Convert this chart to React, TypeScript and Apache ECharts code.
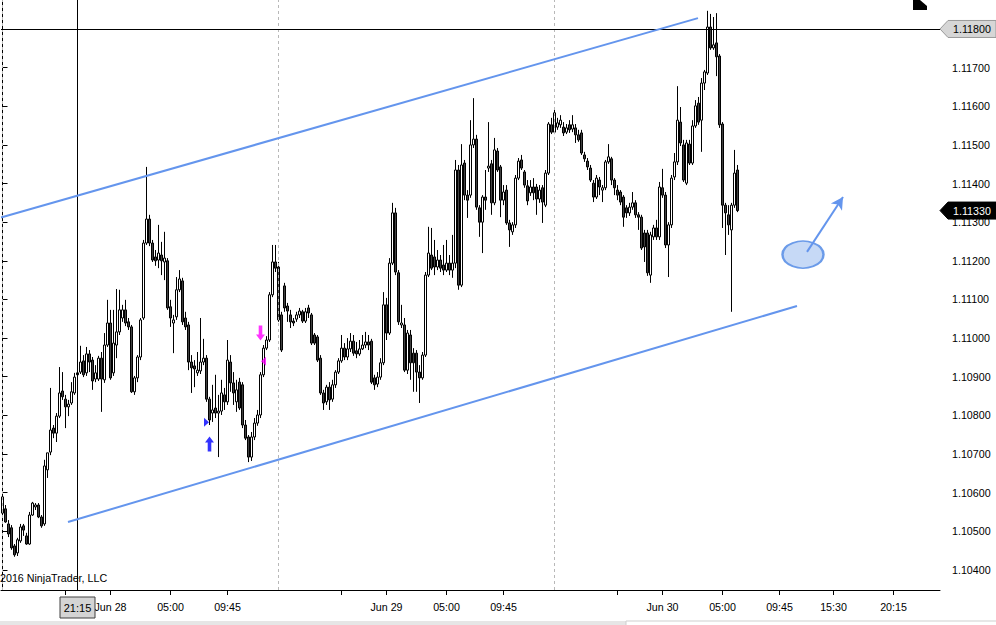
import React, { useEffect, useRef } from "react";
import * as echarts from "echarts";

const opens = [
  1.10547, 1.10558, 1.10519, 1.10509, 1.10462, 1.10444, 1.10475, 1.10514, 1.10488, 1.10467,
  1.10542, 1.10563, 1.10568, 1.10537, 1.10519, 1.10659, 1.10705, 1.10767, 1.10754, 1.10798,
  1.10863, 1.10842, 1.10822, 1.10832, 1.10858, 1.10910, 1.10912, 1.10941, 1.10910, 1.10959,
  1.10943, 1.10894, 1.10894, 1.10948, 1.10892, 1.10982, 1.11039, 1.10910, 1.10982, 1.11016,
  1.11052, 1.11073, 1.11042, 1.11029, 1.10861, 1.10897, 1.10951, 1.11052, 1.11246, 1.11308,
  1.11246, 1.11210, 1.11202, 1.11215, 1.11197, 1.11200, 1.11081, 1.11039, 1.11055, 1.11125,
  1.11148, 1.11052, 1.11034, 1.10938, 1.10928, 1.10910, 1.10915, 1.10938, 1.10948, 1.10842,
  1.10806, 1.10819, 1.10806, 1.10811, 1.10853, 1.10835, 1.10938, 1.10884, 1.10835, 1.10886,
  1.10879, 1.10775, 1.10744, 1.10692, 1.10744, 1.10780, 1.10801, 1.10905, 1.10974, 1.10995,
  1.11112, 1.11197, 1.11184, 1.11060, 1.11135, 1.11083, 1.11060, 1.11044, 1.11049, 1.11060,
  1.11068, 1.11044, 1.11078, 1.11060, 1.11008, 1.11003, 1.10948, 1.10858, 1.10835, 1.10873,
  1.10842, 1.10879, 1.10912, 1.10941, 1.10974, 1.10951, 1.10972, 1.10992, 1.10967, 1.10959,
  1.10972, 1.10982, 1.10990, 1.10992, 1.10897, 1.10881, 1.10899, 1.10936, 1.11086, 1.11013,
  1.11194, 1.11324, 1.11169, 1.11034, 1.11034, 1.10917, 1.11008, 1.10961, 1.10961, 1.10912,
  1.10897, 1.10956, 1.11163, 1.11215, 1.11210, 1.11184, 1.11202, 1.11189, 1.11176, 1.11194,
  1.11176, 1.11194, 1.11435, 1.11137, 1.11453, 1.11370, 1.11370, 1.11500, 1.11515, 1.11337,
  1.11300, 1.11365, 1.11440, 1.11451, 1.11350, 1.11484, 1.11443, 1.11357, 1.11383, 1.11298,
  1.11275, 1.11293, 1.11414, 1.11461, 1.11430, 1.11394, 1.11376, 1.11391, 1.11391, 1.11360,
  1.11389, 1.11344, 1.11427, 1.11552, 1.11533, 1.11546, 1.11552, 1.11546, 1.11533, 1.11552,
  1.11541, 1.11544, 1.11526, 1.11531, 1.11474, 1.11458, 1.11440, 1.11401, 1.11365, 1.11409,
  1.11383, 1.11389, 1.11456, 1.11464, 1.11409, 1.11383, 1.11378, 1.11365, 1.11337, 1.11324,
  1.11339, 1.11350, 1.11319, 1.11313, 1.11272, 1.11272, 1.11163, 1.11262, 1.11285, 1.11262,
  1.11389, 1.11370, 1.11241, 1.11293, 1.11417, 1.11456, 1.11559, 1.11500, 1.11401, 1.11502,
  1.11453, 1.11549, 1.11608, 1.11564, 1.11660, 1.11686, 1.11805, 1.11751, 1.11764, 1.11730,
  1.11554, 1.11344, 1.11319, 1.11280, 1.11344, 1.11435,
];

const closes = [
  1.10589, 1.10524, 1.10493, 1.10457, 1.10439, 1.10478, 1.10511, 1.10503, 1.10467, 1.10542,
  1.10573, 1.10568, 1.10537, 1.10514, 1.10669, 1.10703, 1.10762, 1.10754, 1.10798, 1.10858,
  1.10848, 1.10822, 1.10829, 1.10861, 1.10899, 1.10905, 1.10938, 1.10905, 1.10959, 1.10938,
  1.10889, 1.10910, 1.10948, 1.10894, 1.10982, 1.11039, 1.10897, 1.10987, 1.11016, 1.11073,
  1.11073, 1.11039, 1.11029, 1.10861, 1.10897, 1.10951, 1.11047, 1.11246, 1.11308, 1.11246,
  1.11202, 1.11200, 1.11220, 1.11200, 1.11207, 1.11078, 1.11052, 1.11047, 1.11125, 1.11153,
  1.11042, 1.11029, 1.10938, 1.10923, 1.10920, 1.10917, 1.10938, 1.10948, 1.10842, 1.10788,
  1.10814, 1.10806, 1.10811, 1.10858, 1.10835, 1.10943, 1.10884, 1.10858, 1.10866, 1.10819,
  1.10775, 1.10741, 1.10692, 1.10744, 1.10780, 1.10801, 1.10905, 1.10974, 1.10995, 1.11112,
  1.11197, 1.11181, 1.11047, 1.10969, 1.11078, 1.11070, 1.11042, 1.11039, 1.11060, 1.11070,
  1.11044, 1.11068, 1.11065, 1.10987, 1.10987, 1.10943, 1.10858, 1.10832, 1.10873, 1.10840,
  1.10879, 1.10912, 1.10941, 1.10974, 1.10951, 1.10972, 1.10992, 1.10961, 1.10959, 1.10972,
  1.10982, 1.10990, 1.10982, 1.10886, 1.10879, 1.10899, 1.10936, 1.11086, 1.11013, 1.11194,
  1.11324, 1.11171, 1.11042, 1.11039, 1.10917, 1.11013, 1.10936, 1.10936, 1.10912, 1.10897,
  1.10956, 1.11163, 1.11220, 1.11181, 1.11184, 1.11202, 1.11181, 1.11176, 1.11194, 1.11176,
  1.11194, 1.11435, 1.11137, 1.11448, 1.11370, 1.11357, 1.11500, 1.11515, 1.11339, 1.11300,
  1.11365, 1.11357, 1.11445, 1.11350, 1.11487, 1.11435, 1.11357, 1.11378, 1.11298, 1.11280,
  1.11293, 1.11414, 1.11458, 1.11440, 1.11396, 1.11355, 1.11391, 1.11376, 1.11360, 1.11383,
  1.11352, 1.11427, 1.11554, 1.11533, 1.11583, 1.11557, 1.11564, 1.11531, 1.11544, 1.11539,
  1.11552, 1.11526, 1.11513, 1.11479, 1.11464, 1.11443, 1.11409, 1.11365, 1.11414, 1.11391,
  1.11389, 1.11456, 1.11469, 1.11409, 1.11389, 1.11370, 1.11352, 1.11313, 1.11324, 1.11339,
  1.11350, 1.11319, 1.11313, 1.11233, 1.11236, 1.11169, 1.11267, 1.11285, 1.11262, 1.11391,
  1.11370, 1.11241, 1.11293, 1.11414, 1.11456, 1.11564, 1.11505, 1.11409, 1.11505, 1.11453,
  1.11549, 1.11601, 1.11559, 1.11660, 1.11689, 1.11805, 1.11751, 1.11759, 1.11728, 1.11552,
  1.11344, 1.11324, 1.11293, 1.11344, 1.11427, 1.11330,
];

const highs = [
  1.10602, 1.10568, 1.10529, 1.10516, 1.10467, 1.10483, 1.10519, 1.10519, 1.10496, 1.10550,
  1.10576, 1.10573, 1.10573, 1.10542, 1.10685, 1.10703, 1.10871, 1.10775, 1.10806, 1.10925,
  1.10912, 1.10853, 1.10840, 1.10886, 1.10910, 1.10912, 1.10980, 1.10956, 1.10977, 1.10969,
  1.10951, 1.10930, 1.10954, 1.10964, 1.11013, 1.11099, 1.11073, 1.11073, 1.11127, 1.11125,
  1.11086, 1.11099, 1.11052, 1.11034, 1.10902, 1.10956, 1.11052, 1.11254, 1.11443, 1.11319,
  1.11254, 1.11228, 1.11293, 1.11249, 1.11275, 1.11207, 1.11099, 1.11060, 1.11158, 1.11176,
  1.11156, 1.11068, 1.11042, 1.10956, 1.10943, 1.10964, 1.11052, 1.10998, 1.10956, 1.10848,
  1.10879, 1.10905, 1.10853, 1.10892, 1.10871, 1.10995, 1.10956, 1.10912, 1.10892, 1.10897,
  1.10886, 1.10788, 1.10749, 1.10757, 1.10793, 1.10814, 1.10912, 1.10982, 1.11005, 1.11119,
  1.11241, 1.11241, 1.11197, 1.11068, 1.11143, 1.11091, 1.11073, 1.11052, 1.11068, 1.11078,
  1.11073, 1.11078, 1.11086, 1.11065, 1.11013, 1.11008, 1.10956, 1.10866, 1.10879, 1.10886,
  1.10892, 1.10917, 1.10948, 1.11008, 1.10987, 1.11000, 1.11013, 1.11008, 1.10990, 1.10995,
  1.11008, 1.11016, 1.11008, 1.10998, 1.10905, 1.10912, 1.10948, 1.11119, 1.11104, 1.11207,
  1.11350, 1.11337, 1.11176, 1.11086, 1.11052, 1.11021, 1.11021, 1.10974, 1.10969, 1.10930,
  1.10964, 1.11171, 1.11288, 1.11285, 1.11254, 1.11228, 1.11215, 1.11241, 1.11254, 1.11215,
  1.11267, 1.11461, 1.11448, 1.11502, 1.11461, 1.11383, 1.11564, 1.11621, 1.11526, 1.11344,
  1.11370, 1.11435, 1.11559, 1.11461, 1.11518, 1.11492, 1.11448, 1.11396, 1.11396, 1.11306,
  1.11300, 1.11422, 1.11466, 1.11474, 1.11435, 1.11409, 1.11409, 1.11414, 1.11399, 1.11396,
  1.11396, 1.11435, 1.11559, 1.11570, 1.11593, 1.11570, 1.11577, 1.11559, 1.11554, 1.11564,
  1.11577, 1.11554, 1.11539, 1.11539, 1.11482, 1.11466, 1.11448, 1.11409, 1.11422, 1.11417,
  1.11396, 1.11461, 1.11502, 1.11469, 1.11414, 1.11396, 1.11383, 1.11370, 1.11344, 1.11350,
  1.11378, 1.11357, 1.11326, 1.11319, 1.11280, 1.11280, 1.11275, 1.11293, 1.11306, 1.11404,
  1.11438, 1.11378, 1.11300, 1.11422, 1.11479, 1.11652, 1.11598, 1.11513, 1.11513, 1.11513,
  1.11564, 1.11616, 1.11624, 1.11673, 1.11694, 1.11847, 1.11839, 1.11831, 1.11841, 1.11735,
  1.11559, 1.11350, 1.11344, 1.11350, 1.11487, 1.11448,
];

const lows = [
  1.10542, 1.10522, 1.10485, 1.10452, 1.10434, 1.10436, 1.10470, 1.10488, 1.10465, 1.10465,
  1.10540, 1.10555, 1.10534, 1.10509, 1.10514, 1.10638, 1.10697, 1.10741, 1.10731, 1.10793,
  1.10840, 1.10767, 1.10798, 1.10827, 1.10853, 1.10899, 1.10907, 1.10899, 1.10902, 1.10912,
  1.10866, 1.10886, 1.10889, 1.10809, 1.10884, 1.10977, 1.10892, 1.10902, 1.10948, 1.11008,
  1.11042, 1.11031, 1.11021, 1.10858, 1.10853, 1.10886, 1.10943, 1.11047, 1.11241, 1.11238,
  1.11197, 1.11187, 1.11181, 1.11163, 1.11150, 1.11073, 1.11029, 1.10961, 1.11047, 1.11119,
  1.11034, 1.11021, 1.10917, 1.10858, 1.10873, 1.10902, 1.10907, 1.10930, 1.10835, 1.10775,
  1.10783, 1.10793, 1.10692, 1.10801, 1.10814, 1.10827, 1.10861, 1.10827, 1.10809, 1.10814,
  1.10767, 1.10736, 1.10679, 1.10682, 1.10736, 1.10773, 1.10793, 1.10899, 1.10969, 1.10990,
  1.11106, 1.11171, 1.11042, 1.10964, 1.11068, 1.11042, 1.11026, 1.11031, 1.11042, 1.11052,
  1.11039, 1.11039, 1.11052, 1.10982, 1.10982, 1.10938, 1.10853, 1.10814, 1.10827, 1.10814,
  1.10835, 1.10871, 1.10907, 1.10936, 1.10943, 1.10943, 1.10964, 1.10954, 1.10948, 1.10954,
  1.10969, 1.10974, 1.10969, 1.10881, 1.10866, 1.10873, 1.10892, 1.10930, 1.10995, 1.11008,
  1.11189, 1.11163, 1.11034, 1.11026, 1.10912, 1.10907, 1.10892, 1.10861, 1.10861, 1.10832,
  1.10892, 1.10951, 1.11158, 1.11176, 1.11163, 1.11176, 1.11171, 1.11163, 1.11171, 1.11163,
  1.11156, 1.11181, 1.11125, 1.11132, 1.11357, 1.11311, 1.11363, 1.11492, 1.11332, 1.11262,
  1.11220, 1.11332, 1.11430, 1.11319, 1.11344, 1.11430, 1.11313, 1.11344, 1.11293, 1.11236,
  1.11267, 1.11285, 1.11409, 1.11435, 1.11389, 1.11344, 1.11368, 1.11357, 1.11319, 1.11350,
  1.11298, 1.11339, 1.11422, 1.11528, 1.11528, 1.11539, 1.11544, 1.11523, 1.11528, 1.11531,
  1.11533, 1.11505, 1.11508, 1.11474, 1.11456, 1.11435, 1.11404, 1.11352, 1.11360, 1.11370,
  1.11352, 1.11383, 1.11451, 1.11396, 1.11370, 1.11357, 1.11344, 1.11288, 1.11311, 1.11316,
  1.11332, 1.11311, 1.11280, 1.11228, 1.11197, 1.11161, 1.11143, 1.11254, 1.11254, 1.11254,
  1.11363, 1.11233, 1.11158, 1.11285, 1.11409, 1.11448, 1.11497, 1.11404, 1.11396, 1.11448,
  1.11448, 1.11544, 1.11552, 1.11482, 1.11642, 1.11681, 1.11746, 1.11746, 1.11678, 1.11544,
  1.11285, 1.11215, 1.11267, 1.11068, 1.11337, 1.11326,
];

// x-axis: 15-minute slots (including empty future slots on the right)
const slotCount = 313;
const tickSlots = [21, 36, 56, 75, 113, 128, 148, 167, 205, 220, 240, 259, 277, 297];
const tickTexts = ["", "Jun 28", "05:00", "09:45", "", "Jun 29", "05:00", "09:45", "", "Jun 30", "05:00", "09:45", "15:30", "20:15"];
const sessionStarts = [0, 92, 184];
const crosshairSlot = 25;
const crosshairTime = "21:15";
const crosshairPrice = 1.118;

// y-axis
const priceTicks = [1.104, 1.105, 1.106, 1.107, 1.108, 1.109, 1.11, 1.111, 1.112, 1.113, 1.114, 1.115, 1.116, 1.117];
const yMin = 1.10348;
const yMax = 1.11875;

// drawings (slot, price)
const upperChannel = [[-0.5, 1.11312], [231.83, 1.11828]];
const lowerChannel = [[21.83, 1.10524], [264.83, 1.11083]];
const targetZone = [266.83, 1.11216];
const targetArrow = [[268.17, 1.11223], [280.17, 1.11365]];

// trade markers (slot, price)
const buyArrow = [69, 1.10726];
const buyEntry = [68, 1.10782];
const sellArrow = [86, 1.11013];
const sellEntry = [87, 1.10940];

const copyright = "2016 NinjaTrader, LLC";

const FONT = 'Arial, "Liberation Sans", sans-serif';

const UP_ARROW = "path://M5,0L10,6L7,6L7,15L3,15L3,6L0,6Z";
const DOWN_ARROW = "path://M3,0L7,0L7,9L10,9L5,15L0,9L3,9Z";
const TRI_RIGHT = "path://M0,0L4,4L0,8Z";
const TRI_LEFT = "path://M4,0L0,4L4,8Z";

export default function App() {
  const ref = useRef<HTMLDivElement>(null);

  useEffect(() => {
    if (!ref.current) return;
    const chart = echarts.init(ref.current, null, { renderer: "svg" });

    const categories = Array.from({ length: slotCount }, (_, i) => String(i));
    const candleData = opens.map((o, i) => [o, closes[i], lows[i], highs[i]]);
    const lastClose = closes[closes.length - 1];
    const xLo = -0.5;
    const xHi = slotCount - 0.5;

    chart.setOption({
      animation: false,
      backgroundColor: "#ffffff",
      grid: { left: 1, right: 56, top: 0, bottom: 35, containLabel: false },
      xAxis: [
        {
          type: "category",
          data: categories,
          boundaryGap: true,
          axisLine: { show: true, lineStyle: { color: "#000", width: 1 } },
          axisTick: {
            show: true,
            alignWithLabel: true,
            length: 5,
            interval: (idx: number) => tickSlots.includes(idx),
            lineStyle: { color: "#000" },
          },
          axisLabel: {
            interval: (idx: number) => tickSlots.includes(idx),
            formatter: (_v: string, idx: number) => {
              const k = tickSlots.indexOf(idx);
              return k >= 0 ? tickTexts[k] : "";
            },
            color: "#000",
            fontFamily: FONT,
            fontSize: 10.7,
            margin: 11,
          },
          splitLine: { show: false },
        },
        {
          type: "value",
          min: xLo,
          max: xHi,
          show: false,
        },
      ],
      yAxis: {
        type: "value",
        position: "right",
        min: yMin,
        max: yMax,
        scale: true,
        axisLine: { show: true, lineStyle: { color: "#000", width: 1 } },
        axisTick: { show: true, length: 5, customValues: priceTicks, lineStyle: { color: "#000" } },
        axisLabel: {
          customValues: priceTicks,
          formatter: (v: number) => v.toFixed(5),
          color: "#000",
          fontFamily: FONT,
          fontSize: 10.7,
          margin: 12,
        },
        splitLine: { show: false },
      },
      series: [
        {
          type: "candlestick",
          xAxisIndex: 0,
          data: candleData,
          barWidth: 2,
          itemStyle: {
            color: "#ffffff",
            color0: "#404040",
            borderColor: "#000000",
            borderColor0: "#000000",
            borderWidth: 1,
          },
          markLine: {
            silent: true,
            symbol: ["none", "none"],
            label: { show: false },
            animation: false,
            data: [
              ...sessionStarts.map((s) => ({
                xAxis: s,
                lineStyle: { color: "#b8b8b8", width: 1, type: [3, 3] },
              })),
              { xAxis: crosshairSlot, lineStyle: { color: "#000", width: 1, type: "solid" } },
            ],
          },
          z: 2,
        },
        {
          type: "scatter",
          xAxisIndex: 0,
          silent: true,
          data: [
            { value: buyArrow, symbol: UP_ARROW, symbolSize: [9, 15], itemStyle: { color: "#0000ff" } },
            { value: buyEntry, symbol: TRI_RIGHT, symbolSize: [5, 9], itemStyle: { color: "#0000ff" } },
            { value: sellArrow, symbol: DOWN_ARROW, symbolSize: [9, 15], itemStyle: { color: "#ff00ff" } },
            { value: sellEntry, symbol: TRI_LEFT, symbolSize: [5, 9], itemStyle: { color: "#ff00ff" } },
          ],
          z: 5,
        },
        {
          type: "scatter",
          xAxisIndex: 1,
          silent: true,
          data: [targetZone],
          symbol: "circle",
          symbolSize: [41, 27],
          itemStyle: { color: "#c6d9f6", borderColor: "#6b9be9", borderWidth: 2, opacity: 1 },
          markLine: {
            silent: true,
            symbol: ["none", "none"],
            label: { show: false },
            animation: false,
            lineStyle: { color: "#6495ed", width: 2, type: "solid" },
            data: [
              [
                { coord: [xLo, crosshairPrice], lineStyle: { color: "#000", width: 1 } },
                { coord: [xHi, crosshairPrice] },
              ],
              [{ coord: upperChannel[0] }, { coord: upperChannel[1] }],
              [{ coord: lowerChannel[0] }, { coord: lowerChannel[1] }],
              [
                { coord: targetArrow[0], symbol: "none" },
                { coord: targetArrow[1], symbol: "arrow", symbolSize: [10, 12] },
              ],
            ],
          },
          z: 4,
        },
      ],
    });

    const yTag = chart.convertToPixel({ yAxisIndex: 0 }, crosshairPrice) as number;
    const yLast = chart.convertToPixel({ yAxisIndex: 0 }, lastClose) as number;
    const xCross = chart.convertToPixel({ xAxisIndex: 1 }, crosshairSlot) as number;
    const axisX = 940;

    const tag = (y: number, fill: string, stroke: string, textFill: string, text: string) => [
      {
        type: "polygon",
        shape: {
          points: [
            [axisX, y],
            [axisX + 8, y - 8.5],
            [996, y - 8.5],
            [996, y + 8.5],
            [axisX + 8, y + 8.5],
          ],
        },
        style: { fill, stroke, lineWidth: 1 },
        z: 100,
      },
      {
        type: "text",
        x: axisX + 13,
        y: y,
        style: {
          text,
          fill: textFill,
          font: `10.7px ${FONT}`,
          textAlign: "left",
          textVerticalAlign: "middle",
          verticalAlign: "middle",
        },
        z: 101,
      },
    ];

    chart.setOption({
      graphic: [
        ...tag(yTag, "#d6d6d6", "#9a9a9a", "#000000", crosshairPrice.toFixed(5)),
        ...tag(yLast, "#000000", "#000000", "#ffffff", lastClose.toFixed(5)),
        {
          type: "rect",
          shape: { x: xCross - 17.5, y: 597, width: 35, height: 21 },
          style: { fill: "#d4d4d4", stroke: "#404040", lineWidth: 1 },
          z: 100,
        },
        {
          type: "text",
          x: xCross,
          y: 608,
          style: {
            text: crosshairTime,
            fill: "#000",
            font: `11px ${FONT}`,
            textAlign: "center",
            align: "center",
            textVerticalAlign: "middle",
            verticalAlign: "middle",
          },
          z: 101,
        },
        {
          type: "rect",
          shape: { x: 0, y: 621, width: 996, height: 4 },
          style: { fill: "#e6e6e6" },
          z: 90,
        },
        {
          type: "rect",
          shape: { x: 626, y: 621, width: 372, height: 6 },
          style: { fill: "#ffffff", stroke: "#cfcfcf", lineWidth: 1 },
          z: 91,
        },
        {
          type: "text",
          x: 0,
          y: 578,
          style: {
            text: copyright,
            fill: "#000",
            font: `10.7px ${FONT}`,
            textVerticalAlign: "middle",
            verticalAlign: "middle",
          },
          z: 100,
        },
        {
          type: "polygon",
          shape: { points: [[913, 0], [920, 0], [927, 6], [927, 10], [913, 10]] },
          style: { fill: "#000" },
          z: 100,
        },
      ],
    });

    return () => chart.dispose();
  }, []);

  return (
    <div
      ref={ref}
      style={{ position: "fixed", left: 0, top: 0, width: 996, height: 625, background: "#fff" }}
    />
  );
}
